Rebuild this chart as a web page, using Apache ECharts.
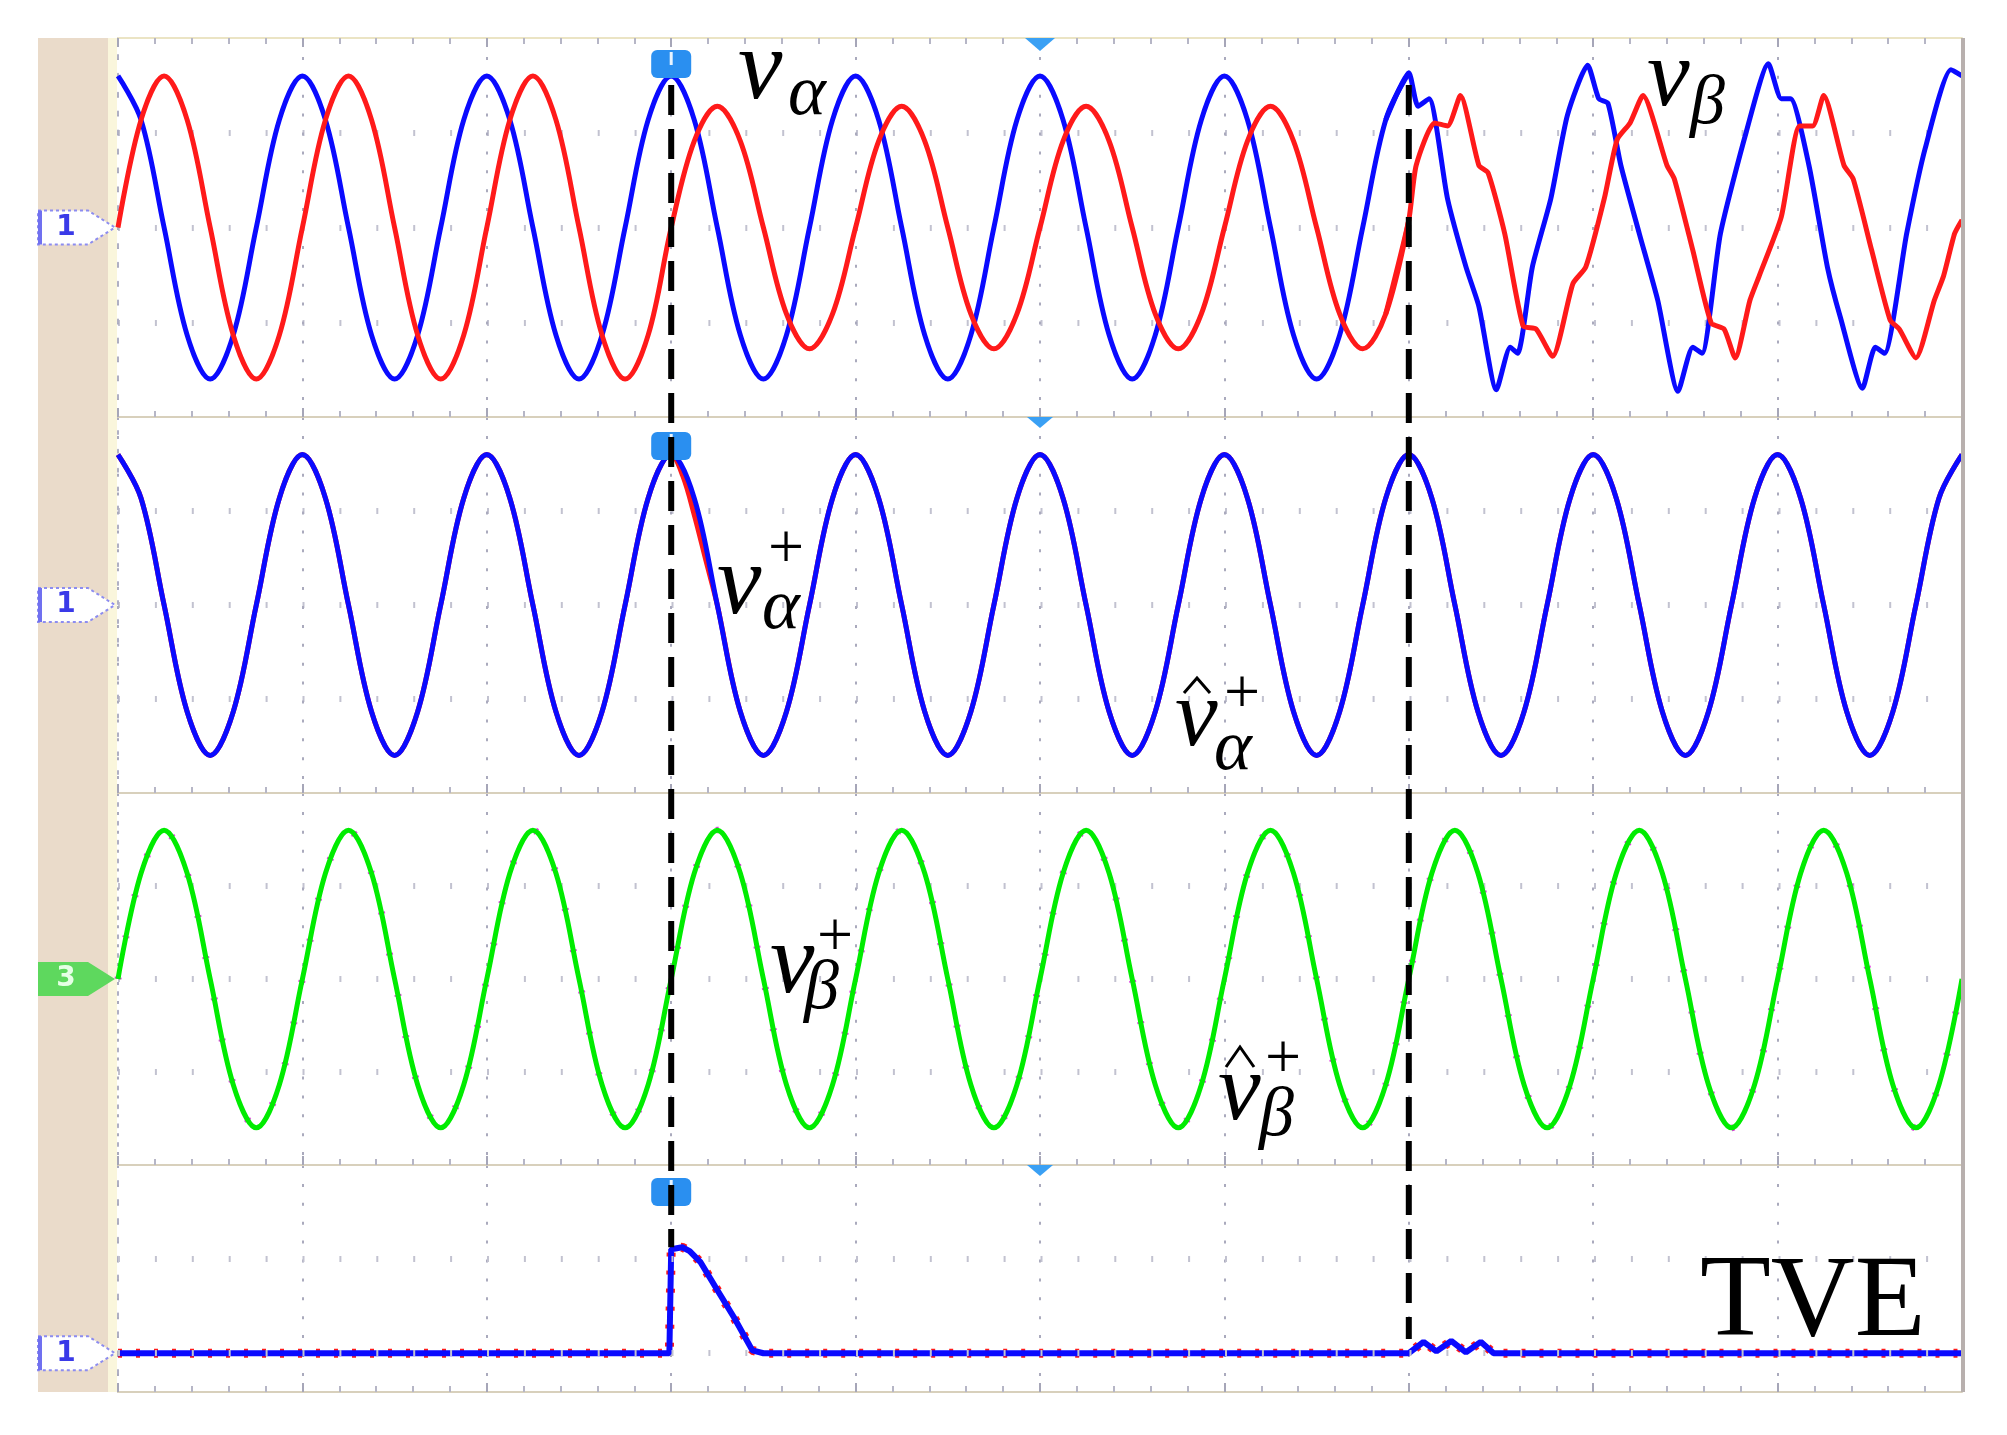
<!DOCTYPE html>
<html>
<head>
<meta charset="utf-8">
<script src="https://cdn.jsdelivr.net/npm/echarts@6/dist/echarts.min.js"></script>
<style>
  html, body { margin: 0; padding: 0; background: #fff; }
  #chart { width: 2007px; height: 1435px; }
</style>
</head>
<body>
<div id="chart"></div>
<script>
// time in scope divisions (1 div = 1 grid cycle), voltages in p.u. of the nominal peak

// v_alpha: clean until 7 div, harmonics after that
const vAlpha = [
  [0, 1.0], [0.125, 0.71], [0.25, 0], [0.375, -0.71], [0.5, -1.0], [0.625, -0.71], [0.75, 0], [0.875, 0.71],
  [1, 1.0], [1.125, 0.71], [1.25, 0], [1.375, -0.71], [1.5, -1.0], [1.625, -0.71], [1.75, 0], [1.875, 0.71],
  [2, 1.0], [2.125, 0.71], [2.25, 0], [2.375, -0.71], [2.5, -1.0], [2.625, -0.71], [2.75, 0], [2.875, 0.71],
  [3, 1.0], [3.125, 0.71], [3.25, 0], [3.375, -0.71], [3.5, -1.0], [3.625, -0.71], [3.75, 0], [3.875, 0.71],
  [4, 1.0], [4.125, 0.71], [4.25, 0], [4.375, -0.71], [4.5, -1.0], [4.625, -0.71], [4.75, 0], [4.875, 0.71],
  [5, 1.0], [5.125, 0.71], [5.25, 0], [5.375, -0.71], [5.5, -1.0], [5.625, -0.71], [5.75, 0], [5.875, 0.71],
  [6, 1.0], [6.125, 0.71], [6.25, 0], [6.375, -0.71], [6.5, -1.0], [6.625, -0.71], [6.75, 0], [6.875, 0.71],
  [7.0, 1.02], [7.05, 0.8], [7.11, 0.85], [7.21, 0.19], [7.31, -0.26], [7.38, -0.52], [7.475, -1.07],
  [7.55, -0.79], [7.59, -0.83], [7.67, -0.26], [7.77, 0.19], [7.86, 0.74], [7.97, 1.07],
  [8.03, 0.85], [8.08, 0.82], [8.15, 0.41], [8.25, -0.04], [8.35, -0.48], [8.46, -1.08],
  [8.54, -0.79], [8.59, -0.83], [8.69, -0.04], [8.83, 0.63], [8.95, 1.08],
  [9.02, 0.85], [9.07, 0.85], [9.17, 0.41], [9.27, -0.26], [9.34, -0.59], [9.46, -1.06],
  [9.53, -0.79], [9.58, -0.83], [9.7, -0.04], [9.8, 0.52], [9.94, 1.04], [10, 1.0]
];

// v_beta: sag at 3 div, harmonics after 7 div
const vBeta = [
  [0, 0], [0.125, 0.71], [0.25, 1.0], [0.375, 0.71], [0.5, 0], [0.625, -0.71], [0.75, -1.0], [0.875, -0.71],
  [1, 0], [1.125, 0.71], [1.25, 1.0], [1.375, 0.71], [1.5, 0], [1.625, -0.71], [1.75, -1.0], [1.875, -0.71],
  [2, 0], [2.125, 0.71], [2.25, 1.0], [2.375, 0.71], [2.5, 0], [2.625, -0.71], [2.75, -1.0], [2.875, -0.71],
  [3, 0], [3.125, 0.57], [3.25, 0.8], [3.375, 0.57], [3.5, 0], [3.625, -0.57], [3.75, -0.8], [3.875, -0.57],
  [4, 0], [4.125, 0.57], [4.25, 0.8], [4.375, 0.57], [4.5, 0], [4.625, -0.57], [4.75, -0.8], [4.875, -0.57],
  [5, 0], [5.125, 0.57], [5.25, 0.8], [5.375, 0.57], [5.5, 0], [5.625, -0.57], [5.75, -0.8], [5.875, -0.57],
  [6, 0], [6.125, 0.57], [6.25, 0.8], [6.375, 0.57], [6.5, 0], [6.625, -0.57], [6.75, -0.8], [6.875, -0.57],
  [7.0, 0.05], [7.04, 0.41], [7.14, 0.69], [7.21, 0.67], [7.28, 0.87], [7.38, 0.41], [7.43, 0.36],
  [7.52, -0.04], [7.62, -0.65], [7.69, -0.67], [7.78, -0.85], [7.89, -0.37], [7.96, -0.26],
  [8.06, 0.19], [8.13, 0.58], [8.2, 0.69], [8.27, 0.87], [8.4, 0.41], [8.44, 0.32],
  [8.54, -0.15], [8.64, -0.63], [8.71, -0.67], [8.77, -0.86], [8.85, -0.48], [8.9, -0.32],
  [9.02, 0.07], [9.12, 0.67], [9.19, 0.67], [9.25, 0.87], [9.36, 0.41], [9.41, 0.32],
  [9.51, -0.15], [9.61, -0.61], [9.66, -0.67], [9.75, -0.86], [9.85, -0.48], [9.9, -0.32],
  [9.96, -0.04], [10, 0.05]
];

// positive sequence alpha (reference)
const vAlphaPos = [
  [0, 1.0], [0.125, 0.71], [0.25, 0], [0.375, -0.71], [0.5, -1.0], [0.625, -0.71], [0.75, 0], [0.875, 0.71],
  [1, 1.0], [1.125, 0.71], [1.25, 0], [1.375, -0.71], [1.5, -1.0], [1.625, -0.71], [1.75, 0], [1.875, 0.71],
  [2, 1.0], [2.125, 0.71], [2.25, 0], [2.375, -0.71], [2.5, -1.0], [2.625, -0.71], [2.75, 0], [2.875, 0.71],
  [3, 1.0], [3.125, 0.71], [3.25, 0], [3.375, -0.71], [3.5, -1.0], [3.625, -0.71], [3.75, 0], [3.875, 0.71],
  [4, 1.0], [4.125, 0.71], [4.25, 0], [4.375, -0.71], [4.5, -1.0], [4.625, -0.71], [4.75, 0], [4.875, 0.71],
  [5, 1.0], [5.125, 0.71], [5.25, 0], [5.375, -0.71], [5.5, -1.0], [5.625, -0.71], [5.75, 0], [5.875, 0.71],
  [6, 1.0], [6.125, 0.71], [6.25, 0], [6.375, -0.71], [6.5, -1.0], [6.625, -0.71], [6.75, 0], [6.875, 0.71],
  [7, 1.0], [7.125, 0.71], [7.25, 0], [7.375, -0.71], [7.5, -1.0], [7.625, -0.71], [7.75, 0], [7.875, 0.71],
  [8, 1.0], [8.125, 0.71], [8.25, 0], [8.375, -0.71], [8.5, -1.0], [8.625, -0.71], [8.75, 0], [8.875, 0.71],
  [9, 1.0], [9.125, 0.71], [9.25, 0], [9.375, -0.71], [9.5, -1.0], [9.625, -0.71], [9.75, 0], [9.875, 0.71],
  [10, 1.0]
];
// estimated alpha: where it departs from the reference just after the sag
const vAlphaPosHatDev = [[3.0625, 0.86], [3.125, 0.6], [3.1875, 0.3]];

// positive sequence beta (reference), the estimate lies on top of it
const vBetaPos = [
  [0, 0], [0.125, 0.71], [0.25, 1.0], [0.375, 0.71], [0.5, 0], [0.625, -0.71], [0.75, -1.0], [0.875, -0.71],
  [1, 0], [1.125, 0.71], [1.25, 1.0], [1.375, 0.71], [1.5, 0], [1.625, -0.71], [1.75, -1.0], [1.875, -0.71],
  [2, 0], [2.125, 0.71], [2.25, 1.0], [2.375, 0.71], [2.5, 0], [2.625, -0.71], [2.75, -1.0], [2.875, -0.71],
  [3, 0], [3.125, 0.71], [3.25, 1.0], [3.375, 0.71], [3.5, 0], [3.625, -0.71], [3.75, -1.0], [3.875, -0.71],
  [4, 0], [4.125, 0.71], [4.25, 1.0], [4.375, 0.71], [4.5, 0], [4.625, -0.71], [4.75, -1.0], [4.875, -0.71],
  [5, 0], [5.125, 0.71], [5.25, 1.0], [5.375, 0.71], [5.5, 0], [5.625, -0.71], [5.75, -1.0], [5.875, -0.71],
  [6, 0], [6.125, 0.71], [6.25, 1.0], [6.375, 0.71], [6.5, 0], [6.625, -0.71], [6.75, -1.0], [6.875, -0.71],
  [7, 0], [7.125, 0.71], [7.25, 1.0], [7.375, 0.71], [7.5, 0], [7.625, -0.71], [7.75, -1.0], [7.875, -0.71],
  [8, 0], [8.125, 0.71], [8.25, 1.0], [8.375, 0.71], [8.5, 0], [8.625, -0.71], [8.75, -1.0], [8.875, -0.71],
  [9, 0], [9.125, 0.71], [9.25, 1.0], [9.375, 0.71], [9.5, 0], [9.625, -0.71], [9.75, -1.0], [9.875, -0.71],
  [10, 0]
];

// TVE trace, in divisions above its ground marker
const tve = [
  [0, 0], [2.99, 0], [3.0, 1.1], [3.06, 1.12], [3.1, 1.08], [3.16, 0.96], [3.24, 0.7], [3.34, 0.38],
  [3.44, 0.03], [3.5, 0], [7.0, 0], [7.08, 0.12], [7.15, 0.02], [7.23, 0.13], [7.31, 0.01],
  [7.39, 0.12], [7.46, 0], [10, 0]
];

const events = [3, 7];

const vAlphaPosHat = vAlphaPos
  .filter(p => p[0] <= 3 || p[0] >= 3.25)
  .concat(vAlphaPosHatDev)
  .sort((a, b) => a[0] - b[0]);

// the harmonic part gets less smoothing than the clean part
const before = (d, t) => d.filter(p => p[0] <= t);
const from = (d, t) => d.filter(p => p[0] >= t);

const LEFT = 118;
const WIDTH = 1844;
const panels = [
  { top: 38, height: 379 },
  { top: 417, height: 376 },
  { top: 793, height: 372 },
  { top: 1165, height: 227 }
];

const BLUE = '#0a0aff';
const RED = '#ff1a1a';
const GREEN = '#00ec00';
const DOTS = '#aaaabd';

function xAxisFor(i, position) {
  return {
    type: 'value',
    gridIndex: i,
    position: position,
    min: 0,
    max: 10,
    interval: 1,
    axisLabel: { show: false },
    axisLine: { show: true, onZero: false, lineStyle: { color: '#d8d0bc', width: 2 } },
    axisTick: { show: true, inside: true, length: 9, lineStyle: { color: '#a6a6b8', width: 2 } },
    minorTick: { show: true, splitNumber: 5, length: 6, lineStyle: { color: '#b6b6c6', width: 2 } },
    splitLine: { show: position === 'bottom', lineStyle: { color: DOTS, width: 2, type: [3, 15.9] } }
  };
}

function yAxisFor(i, min, max, interval) {
  return {
    type: 'value',
    gridIndex: i,
    min: min,
    max: max,
    interval: interval,
    axisLabel: { show: false },
    axisTick: { show: false },
    axisLine: { show: true, onZero: false, lineStyle: { color: '#b0b0c4', width: 2, type: [3, 15.9] } },
    splitLine: {
      show: interval != null,
      showMinLine: false,
      showMaxLine: false,
      lineStyle: { color: '#c2c2d0', width: 6, type: [2, 34.9] }
    }
  };
}

function trace(grid, data, color, width, z, extra) {
  return Object.assign({
    type: 'line',
    xAxisIndex: grid,
    yAxisIndex: grid,
    data: data,
    symbol: 'none',
    smooth: 0.35,
    silent: true,
    z: z,
    lineStyle: { color: color, width: width }
  }, extra || {});
}

const chart = echarts.init(document.getElementById('chart'));

chart.setOption({
  animation: false,
  backgroundColor: '#fff',
  grid: panels.map(p => ({ left: LEFT, width: WIDTH, top: p.top, height: p.height })),
  xAxis: [
    xAxisFor(0, 'bottom'), xAxisFor(1, 'bottom'), xAxisFor(2, 'bottom'), xAxisFor(3, 'bottom'),
    Object.assign(xAxisFor(0, 'top'), { axisLine: { show: true, onZero: false, lineStyle: { color: '#ebe4c4', width: 2 } } })
  ],
  yAxis: [
    yAxisFor(0, -1.25, 1.25, 0.625),
    yAxisFor(1, -1.25, 1.25, 0.625),
    yAxisFor(2, -1.25, 1.25, 0.625),
    yAxisFor(3, -0.41, 1.99, null)
  ],
  series: [
    trace(0, before(vAlpha, 7), BLUE, 5, 3),
    trace(0, from(vAlpha, 6.875), BLUE, 5, 3, { smooth: 0.2 }),
    trace(0, before(vBeta, 7), RED, 5, 4),
    trace(0, from(vBeta, 6.875), RED, 5, 4, { smooth: 0.2 }),
    trace(1, vAlphaPosHat, RED, 5, 3),
    trace(1, vAlphaPos, BLUE, 5, 4),
    trace(2, vBetaPos, '#e040e0', 7, 3, { lineStyle: { color: '#e040e0', width: 7, type: [2, 40] } }),
    trace(2, vBetaPos, GREEN, 5, 4),
    {
      type: 'line', xAxisIndex: 3, yAxisIndex: 3, data: [], silent: true, z: 1,
      markLine: {
        silent: true, symbol: 'none', label: { show: false },
        lineStyle: { color: '#c2c2d0', width: 6, type: [2, 34.9] },
        data: [{ yAxis: 0 }, { yAxis: 1 }]
      }
    },
    trace(3, tve, RED, 9, 3, { smooth: false, lineStyle: { color: RED, width: 9, type: [4, 14] } }),
    trace(3, tve, BLUE, 6, 4, { smooth: false })
  ]
});

// overlay: scope chrome, cursors, dashed event lines and math labels
const px = (g, x, y) => chart.convertToPixel({ xAxisIndex: g, yAxisIndex: g }, [x, y]);
const graphics = [];

graphics.push({ type: 'rect', z: 1, shape: { x: 38, y: 38, width: 70, height: 1354 }, style: { fill: '#eadbca' } });
graphics.push({ type: 'rect', z: 1, shape: { x: 108, y: 38, width: 9, height: 1354 }, style: { fill: '#faf6dc' } });
graphics.push({ type: 'rect', z: 20, shape: { x: 1961, y: 38, width: 4, height: 1354 }, style: { fill: '#b8b0ae' } });

// channel ground markers
const channelTags = ['1', '1', '3', '1'];
channelTags.forEach((tag, i) => {
  const cy = px(i, 0, 0)[1];
  const pts = [[38, cy - 17], [88, cy - 17], [115, cy], [88, cy + 17], [38, cy + 17]];
  if (tag === '3') {
    graphics.push({ type: 'polygon', z: 10, shape: { points: pts }, style: { fill: '#5ed85e' } });
    graphics.push({ type: 'text', z: 11, style: { text: tag, x: 66, y: cy, font: 'bold 28px "DejaVu Sans"', fill: '#e6ffe6', align: 'center', verticalAlign: 'middle' } });
  } else {
    graphics.push({ type: 'polygon', z: 10, shape: { points: pts }, style: { fill: '#fff', stroke: '#8c8cf0', lineWidth: 2, lineDash: [3, 3] } });
    graphics.push({ type: 'rect', z: 11, shape: { x: 38, y: cy - 17, width: 4, height: 34 }, style: { fill: '#7070f0' } });
    graphics.push({ type: 'text', z: 11, style: { text: tag, x: 66, y: cy, font: 'bold 28px "DejaVu Sans"', fill: '#3a3ae8', align: 'center', verticalAlign: 'middle' } });
  }
});

// cursor flags at the first event and trigger marks at the centre
const cx3 = px(0, events[0], 0)[0];
const cx5 = px(0, 5, 0)[0];
[[0, 50], [1, 432], [3, 1178]].forEach(([g, y]) => {
  graphics.push({ type: 'rect', z: 30, shape: { x: cx3 - 20, y: y, width: 40, height: 28, r: 6 }, style: { fill: '#2a8ff0' } });
  graphics.push({ type: 'line', z: 31, shape: { x1: cx3, y1: y + 2, x2: cx3, y2: y + 15 }, style: { stroke: '#e8f4ff', lineWidth: 3 } });
});
[38, 417, 1165].forEach((y, k) => {
  const w = k === 0 ? 15 : 13;
  const h = k === 0 ? 13 : 11;
  graphics.push({ type: 'polygon', z: 30, shape: { points: [[cx5 - w, y], [cx5 + w, y], [cx5, y + h]] }, style: { fill: '#3aa0f4' } });
});

// dashed event lines from the top trace down to the TVE trace
const dashEnds = [[0.94, 1.12], [0.94, 0.15]];
events.forEach((t, i) => {
  const x = px(0, t, 0)[0];
  const y1 = px(0, t, dashEnds[i][0])[1];
  const y2 = px(3, t, dashEnds[i][1])[1];
  graphics.push({ type: 'line', z: 50, shape: { x1: x, y1: y1, x2: x, y2: y2 }, style: { stroke: '#000', lineWidth: 6, lineDash: [30, 14] } });
});

function txt(x, y, s, size, italic) {
  return {
    type: 'text', z: 60,
    style: {
      text: s, x: x, y: y,
      font: (italic === false ? '' : 'italic ') + size + 'px "Liberation Serif"',
      fill: '#000', align: 'left', verticalAlign: 'middle'
    }
  };
}
function hat(x1, ybase, x2, ytop) {
  return {
    type: 'polyline', z: 60,
    shape: { points: [[x1, ybase], [(x1 + x2) / 2, ytop], [x2, ybase]] },
    style: { stroke: '#000', lineWidth: 3, fill: null }
  };
}

graphics.push(
  txt(738, 72, 'v', 100), txt(788, 95, 'α', 72),
  txt(1647, 80, 'v', 96), txt(1690, 105, 'β', 70),
  txt(717, 587, 'v', 100), txt(768, 551, '+', 64, false), txt(762, 609, 'α', 72),
  txt(1175, 720, 'v', 96), hat(1184, 693, 1210, 678), txt(1224, 696, '+', 64, false), txt(1214, 750, 'α', 72),
  txt(770, 966, 'v', 100), txt(817, 939, '+', 64, false), txt(804, 990, 'β', 70),
  txt(1218, 1094, 'v', 96), hat(1226, 1067, 1254, 1047), txt(1265, 1061, '+', 64, false), txt(1259, 1117, 'β', 70),
  txt(1700, 1305, 'TVE', 116, false)
);

chart.setOption({ graphic: graphics });
</script>
</body>
</html>
